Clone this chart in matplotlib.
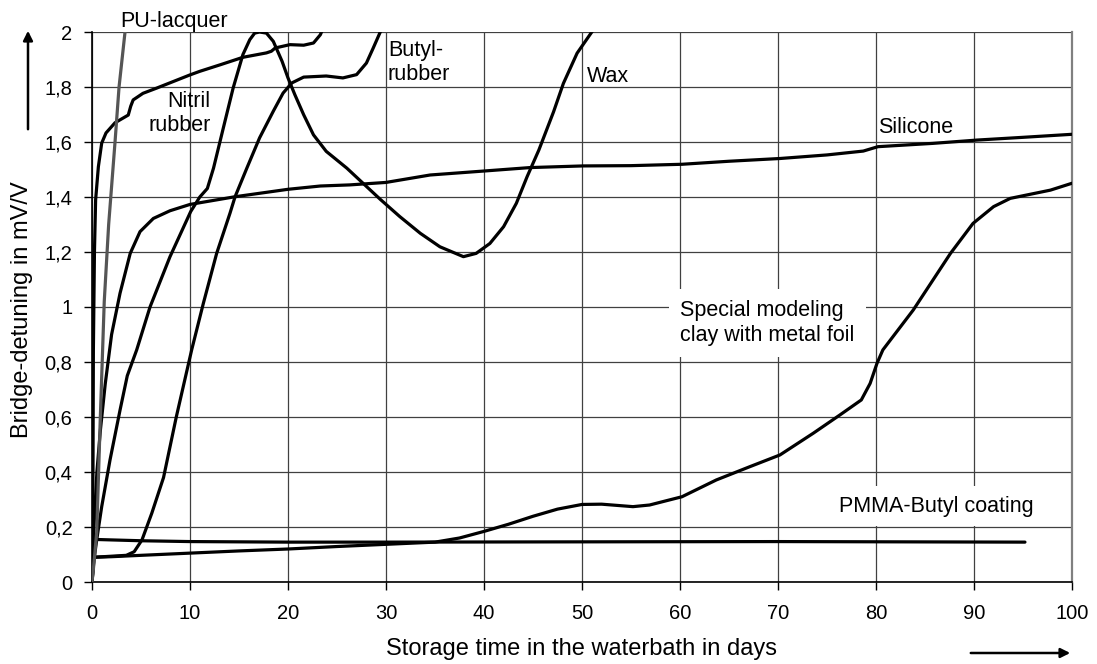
import matplotlib
matplotlib.use("Agg")
import matplotlib.pyplot as plt
from matplotlib.patches import FancyArrowPatch

plt.rcParams['font.family'] = ['Liberation Sans', 'DejaVu Sans']

# data (days, mV/V)
pu_x = [0.0, 0.15, 0.48, 0.85, 1.25, 1.7, 2.35, 2.76, 3.37, 3.55]
pu_y = [0.0, 0.05, 0.18, 0.6, 1.02, 1.3, 1.6, 1.8, 2.0, 2.06]

nitril_x = [0.0, 0.1, 0.14, 0.25, 0.37, 0.65, 0.99, 1.43, 2.35, 3.7, 3.95, 4.2, 5.2,
            6.6, 8.3, 10.0, 11.0, 13.1, 15.4, 17.8, 18.3, 18.7, 20.2, 21.6, 22.6, 23.3, 23.6]
nitril_y = [0.0, 0.4, 0.84, 1.2, 1.39, 1.51, 1.596, 1.633, 1.67, 1.698, 1.73, 1.753, 1.777,
            1.796, 1.82, 1.844, 1.857, 1.881, 1.908, 1.924, 1.93, 1.942, 1.954, 1.952, 1.96, 1.99, 2.015]

silicone_x = [0.0, 0.2, 0.5, 0.85, 1.35, 2.0, 2.86, 3.9, 4.9, 6.26, 7.96, 10.0, 14.6, 20.0,
              23.3, 26.3, 30.0, 34.5, 40.2, 44.7, 50.1, 55.0, 60.2, 65.0, 70.2, 75.0, 78.7,
              80.2, 85.8, 90.3, 95.0, 100.0]
silicone_y = [0.0, 0.2, 0.4, 0.55, 0.72, 0.9, 1.05, 1.195, 1.274, 1.322, 1.35, 1.373, 1.401, 1.428,
              1.44, 1.444, 1.453, 1.48, 1.495, 1.507, 1.513, 1.514, 1.519, 1.53, 1.54, 1.553, 1.567,
              1.583, 1.595, 1.607, 1.617, 1.628]

butyl_x = [0.0, 0.2, 3.5, 4.3, 5.1, 6.1, 7.3, 8.6, 10.17, 11.36, 12.72, 14.08, 14.6, 15.8,
           17.1, 18.5, 19.5, 20.4, 21.6, 23.9, 25.6, 27.0, 28.0, 28.7, 29.6]
butyl_y = [0.0, 0.09, 0.097, 0.11, 0.153, 0.25, 0.38, 0.6, 0.844, 1.013, 1.195, 1.341, 1.401, 1.505,
           1.615, 1.712, 1.778, 1.815, 1.836, 1.84, 1.833, 1.845, 1.887, 1.942, 2.015]

wax_x = [0.0, 0.2, 0.48, 0.99, 1.84, 2.86, 3.6, 4.56, 5.92, 7.96, 10.07, 11.0, 11.77, 12.4,
         13.4, 14.4, 15.4, 16.1, 16.6, 17.1, 17.8, 18.5, 19.4, 20.0, 20.7, 21.6, 22.6, 23.9,
         26.0, 29.4, 31.4, 33.5, 35.5, 37.9, 39.2, 40.6, 42.0, 43.3, 44.4, 45.6, 47.1, 48.1,
         49.5, 51.0, 51.4]
wax_y = [0.0, 0.08, 0.153, 0.274, 0.444, 0.625, 0.75, 0.844, 1.0, 1.183, 1.347, 1.4, 1.431, 1.505,
         1.651, 1.796, 1.918, 1.972, 1.996, 2.0, 1.996, 1.966, 1.893, 1.833, 1.772, 1.699, 1.626, 1.566,
         1.505, 1.392, 1.329, 1.268, 1.219, 1.183, 1.195, 1.231, 1.292, 1.377, 1.474, 1.571, 1.71, 1.813,
         1.923, 2.0, 2.02]

clay_x = [0.0, 0.15, 2.0, 5.0, 10.0, 15.0, 20.0, 25.0, 30.0, 35.0, 37.5, 40.0, 42.5, 45.0,
          47.5, 50.0, 52.0, 55.2, 56.9, 60.2, 63.7, 67.1, 70.2, 73.6, 76.3, 78.5, 79.4, 80.1,
          80.7, 83.8, 87.6, 89.9, 92.0, 93.7, 97.8, 100.0]
clay_y = [0.0, 0.09, 0.092, 0.097, 0.105, 0.113, 0.12, 0.129, 0.137, 0.145, 0.16, 0.184, 0.21, 0.239,
          0.265, 0.282, 0.283, 0.274, 0.28, 0.31, 0.371, 0.419, 0.462, 0.541, 0.607, 0.662, 0.722, 0.795,
          0.844, 0.989, 1.195, 1.304, 1.365, 1.395, 1.425, 1.45]

pmma_x = [0.0, 0.1, 2.0, 5.0, 10.0, 20.0, 30.0, 50.0, 70.0, 95.2]
pmma_y = [0.0, 0.155, 0.153, 0.15, 0.147, 0.145, 0.145, 0.146, 0.147, 0.145]

x_ticks = [0, 10, 20, 30, 40, 50, 60, 70, 80, 90, 100]
y_ticks = [0, 0.2, 0.4, 0.6, 0.8, 1.0, 1.2, 1.4, 1.6, 1.8, 2.0]
y_labels = ['0', '0,2', '0,4', '0,6', '0,8', '1', '1,2', '1,4', '1,6', '1,8', '2']

fig = plt.figure(figsize=(10.97, 6.64), dpi=100)
ax = fig.add_axes([92/1097, 1-582/664, 980/1097, 550/664])

ax.set_xlim(0, 100)
ax.set_ylim(0, 2)
ax.set_xticks(x_ticks)
ax.set_yticks(y_ticks)
ax.set_yticklabels(y_labels)
ax.grid(True, color='#404040', linewidth=0.9)
ax.set_axisbelow(True)

ax.spines['top'].set_visible(False)
ax.spines['right'].set_color('#808080')
ax.spines['right'].set_linewidth(1.6)
ax.spines['left'].set_linewidth(1.2)
ax.spines['bottom'].set_linewidth(1.2)
ax.tick_params(direction='out', length=6, width=1, labelsize=14.5)
ax.tick_params(axis='y', pad=8)
ax.tick_params(axis='x', pad=10)

# curves, drawn with round joins so the traced points look smooth
line_kw = dict(lw=2.3, zorder=3, solid_joinstyle='round', solid_capstyle='round')
ax.plot(pmma_x, pmma_y, color='black', **line_kw)
ax.plot(clay_x, clay_y, color='black', **line_kw)
ax.plot(silicone_x, silicone_y, color='black', **line_kw)
ax.plot(butyl_x, butyl_y, color='black', **line_kw)
ax.plot(wax_x, wax_y, color='black', **line_kw)
ax.plot(nitril_x, nitril_y, color='black', **line_kw)
ax.plot(pu_x, pu_y, color='#555555', **line_kw)

fs = 15.5
ax.text(2.86, 2.04, 'PU-lacquer', fontsize=fs, va='center', ha='left', clip_on=False)
ax.text(12.1, 1.705, 'Nitril\nrubber', fontsize=fs, va='center', ha='right', multialignment='right')
ax.text(30.2, 1.889, 'Butyl-\nrubber', fontsize=fs, va='center', ha='left')
ax.text(50.5, 1.84, 'Wax', fontsize=fs, va='center', ha='left')
ax.text(80.2, 1.653, 'Silicone', fontsize=fs, va='center', ha='left')
ax.text(60.0, 0.942, 'Special modeling\nclay with metal foil', fontsize=fs, va='center', ha='left',
        bbox=dict(facecolor='white', edgecolor='none', pad=8), zorder=2)
ax.text(76.2, 0.276, 'PMMA-Butyl coating', fontsize=fs, va='center', ha='left',
        bbox=dict(facecolor='white', edgecolor='none', pad=7), zorder=2)

ax.set_xlabel('Storage time in the waterbath in days', fontsize=17)
ax.xaxis.set_label_coords(0.5, -0.102)
ax.set_ylabel('Bridge-detuning in mV/V', fontsize=17, va='center')
ax.yaxis.set_label_coords(-0.0714, 0.4945)

# axis arrows
fig.patches.append(FancyArrowPatch(
    (28/1097, 1-132/664), (28/1097, 1-28/664), transform=fig.transFigure,
    arrowstyle='-|>', mutation_scale=14, lw=1.8, color='black'))
fig.patches.append(FancyArrowPatch(
    (968/1097, 1-653/664), (1073/1097, 1-653/664), transform=fig.transFigure,
    arrowstyle='-|>', mutation_scale=14, lw=1.8, color='black'))

fig.savefig('out.png', dpi=100)
